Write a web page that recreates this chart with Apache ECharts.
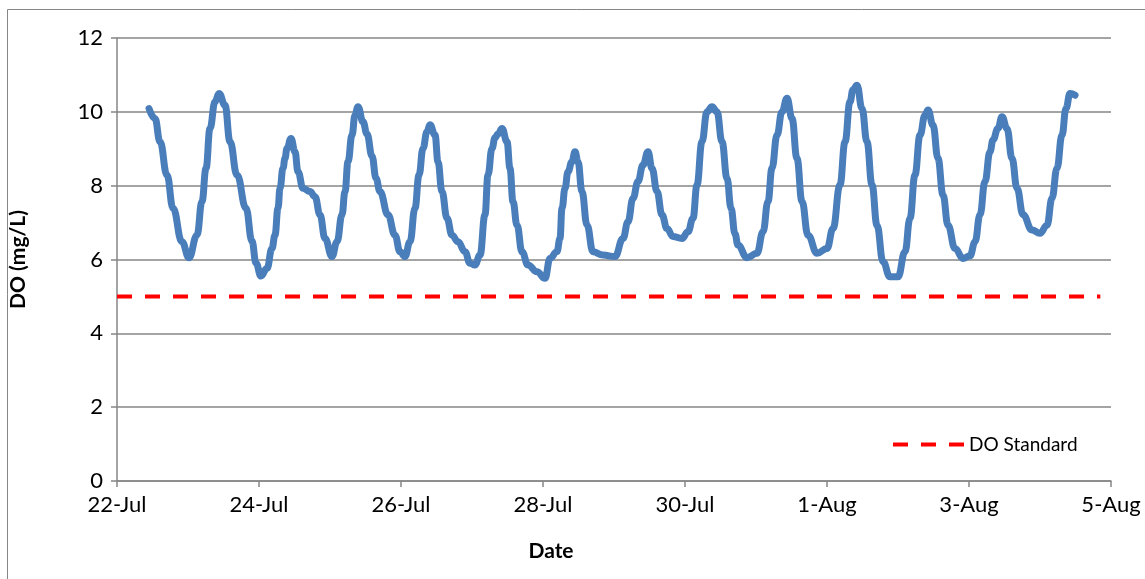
<!DOCTYPE html>
<html>
<head>
<meta charset="utf-8">
<script src="https://cdn.jsdelivr.net/npm/echarts@6/dist/echarts.min.js"></script>
<style>
  html, body { margin: 0; padding: 0; background: #ffffff; }
  #chart { width: 1145px; height: 579px; }
</style>
</head>
<body>
<div id="chart"></div>
<script>
// Time of each reading, in days elapsed since 22-Jul 00:00
const sampleDays = [
  0.451, 0.535, 0.606, 0.704, 0.789, 0.915, 1.014, 1.127, 1.197, 1.254, 1.310, 1.380, 1.437, 1.521, 1.592, 1.690,
  1.817, 1.901, 1.958, 2.028, 2.113, 2.183, 2.225, 2.268, 2.296, 2.338, 2.366, 2.394, 2.451, 2.507, 2.549, 2.620,
  2.718, 2.789, 2.859, 2.930, 3.028, 3.099, 3.169, 3.211, 3.254, 3.310, 3.352, 3.394, 3.465, 3.521, 3.592, 3.648,
  3.704, 3.817, 3.915, 3.986, 4.056, 4.127, 4.197, 4.254, 4.310, 4.366, 4.408, 4.479, 4.521, 4.577, 4.648, 4.718,
  4.803, 4.901, 4.972, 5.042, 5.113, 5.183, 5.225, 5.282, 5.324, 5.366, 5.423, 5.493, 5.535, 5.577, 5.634, 5.704,
  5.789, 5.915, 6.028, 6.099, 6.197, 6.239, 6.268, 6.310, 6.352, 6.408, 6.451, 6.493, 6.549, 6.620, 6.704, 6.845,
  7.014, 7.127, 7.197, 7.268, 7.338, 7.408, 7.479, 7.535, 7.606, 7.676, 7.746, 7.831, 7.958, 8.042, 8.113, 8.169,
  8.239, 8.310, 8.380, 8.451, 8.521, 8.592, 8.648, 8.704, 8.746, 8.873, 9.014, 9.099, 9.169, 9.225, 9.296, 9.366,
  9.437, 9.507, 9.577, 9.648, 9.732, 9.859, 10.000, 10.085, 10.183, 10.254, 10.324, 10.366, 10.423, 10.493, 10.563, 10.634,
  10.704, 10.789, 10.887, 11.000, 11.099, 11.169, 11.239, 11.310, 11.380, 11.423, 11.493, 11.563, 11.634, 11.704, 11.803, 11.915,
  12.014, 12.085, 12.155, 12.225, 12.296, 12.338, 12.408, 12.465, 12.535, 12.606, 12.676, 12.761, 12.887, 13.000, 13.099, 13.169,
  13.239, 13.310, 13.366, 13.423, 13.493
];

// Dissolved oxygen, mg/L
const doMgL = [
  10.09, 9.82, 9.19, 8.29, 7.39, 6.48, 6.05, 6.66, 7.57, 8.47, 9.55, 10.27, 10.50, 10.18, 9.19, 8.29,
  7.39, 6.50, 5.90, 5.55, 5.76, 6.30, 6.66, 7.39, 7.93, 8.47, 8.74, 9.01, 9.28, 8.92, 8.38, 7.93,
  7.84, 7.70, 7.21, 6.57, 6.08, 6.48, 7.21, 7.84, 8.65, 9.37, 9.91, 10.14, 9.73, 9.40, 8.80, 8.20,
  7.84, 7.21, 6.66, 6.21, 6.08, 6.48, 7.39, 8.29, 9.01, 9.46, 9.65, 9.37, 8.65, 7.84, 7.12, 6.66,
  6.48, 6.21, 5.90, 5.85, 6.12, 7.21, 8.29, 9.01, 9.30, 9.40, 9.55, 9.19, 8.47, 7.57, 6.93, 6.21,
  5.85, 5.67, 5.49, 6.03, 6.21, 6.57, 7.39, 7.93, 8.38, 8.65, 8.92, 8.65, 7.84, 6.93, 6.21, 6.12,
  6.08, 6.57, 7.02, 7.66, 8.11, 8.56, 8.92, 8.47, 7.84, 7.21, 6.84, 6.62, 6.57, 6.75, 7.12, 8.02,
  9.19, 10.00, 10.14, 10.00, 9.19, 8.20, 7.39, 6.70, 6.39, 6.05, 6.17, 6.75, 7.57, 8.47, 9.37, 10.00,
  10.37, 9.82, 8.74, 7.57, 6.66, 6.17, 6.30, 6.84, 8.02, 9.19, 10.27, 10.60, 10.72, 10.09, 9.19, 8.02,
  6.93, 5.94, 5.53, 5.53, 6.21, 7.12, 8.29, 9.37, 9.91, 10.05, 9.64, 8.74, 7.75, 6.93, 6.30, 6.03,
  6.10, 6.48, 7.21, 8.11, 8.92, 9.24, 9.55, 9.87, 9.55, 8.74, 7.93, 7.21, 6.80, 6.71, 6.93, 7.66,
  8.47, 9.37, 10.09, 10.50, 10.45
];

// DO standard and the span of days it is drawn across
const doStandardValue = 5;
const standardDays = [0, 13.85];

// Axis ranges (days since 22-Jul; mg/L)
const xRange = [0, 14, 2];
const yRange = [0, 12, 2];
const monthNames = ['Jan', 'Feb', 'Mar', 'Apr', 'May', 'Jun', 'Jul', 'Aug', 'Sep', 'Oct', 'Nov', 'Dec'];

const FONT = 'Lato, "Open Sans", sans-serif';
const GREY = '#868686';

function dayLabel(v) {
  const d = new Date(2011, 6, 22 + Math.round(v));
  return d.getDate() + '-' + monthNames[d.getMonth()];
}

const doSeriesData = sampleDays.map((t, i) => [t, doMgL[i]]);
const standardData = standardDays.map(t => [t, doStandardValue]);

// Legend key: three short dashes, like the standard line itself
const dashedKey = 'path://M0,0H15V4H0Z M28,0H43V4H28Z M56,0H71V4H56Z';

const chart = echarts.init(document.getElementById('chart'), null, { renderer: 'canvas' });

chart.setOption({
  animation: false,
  backgroundColor: '#ffffff',
  textStyle: { fontFamily: FONT },
  grid: { left: 117, top: 38, right: 34, bottom: 98, containLabel: false },
  graphic: [{
    type: 'rect',
    silent: true,
    shape: { x: 7.5, y: 9.5, width: 1150, height: 590 },
    style: { fill: 'none', stroke: GREY, lineWidth: 1 }
  }],
  legend: {
    data: [{ name: 'DO Standard', icon: dashedKey }],
    left: 888,
    top: 430,
    itemWidth: 71,
    itemHeight: 4,
    itemGap: 10,
    textStyle: { fontFamily: FONT, fontSize: 19, color: '#000000' }
  },
  xAxis: {
    type: 'value',
    min: xRange[0],
    max: xRange[1],
    interval: xRange[2],
    name: 'Date',
    nameLocation: 'middle',
    nameGap: 60,
    nameTextStyle: { fontFamily: FONT, fontSize: 21, fontWeight: 'bold', color: '#000000', padding: [0, 126, 0, 0] },
    axisLine: { show: true, lineStyle: { color: GREY, width: 1.5 } },
    axisTick: { show: true, inside: false, length: 6, lineStyle: { color: GREY, width: 1.5 } },
    axisLabel: { margin: 13, fontFamily: FONT, fontSize: 22, color: '#000000', formatter: dayLabel },
    splitLine: { show: false }
  },
  yAxis: {
    type: 'value',
    min: yRange[0],
    max: yRange[1],
    interval: yRange[2],
    name: 'DO (mg/L)',
    nameLocation: 'middle',
    nameGap: 88,
    nameRotate: 90,
    nameTextStyle: { fontFamily: FONT, fontSize: 21, fontWeight: 'bold', color: '#000000' },
    axisLine: { show: true, lineStyle: { color: GREY, width: 1.5 } },
    axisTick: { show: true, inside: false, length: 6, lineStyle: { color: GREY, width: 1.5 } },
    axisLabel: { margin: 14, fontFamily: FONT, fontSize: 22, color: '#000000' },
    splitLine: { show: true, lineStyle: { color: GREY, width: 1.5 } }
  },
  series: [
    {
      name: 'DO',
      type: 'line',
      data: doSeriesData,
      symbol: 'none',
      smooth: 0.45,
      smoothMonotone: 'x',
      lineStyle: { color: '#4a7ebb', width: 7, cap: 'round', join: 'round' },
      itemStyle: { color: '#4a7ebb' },
      z: 3
    },
    {
      name: 'DO Standard',
      type: 'line',
      data: standardData,
      symbol: 'none',
      lineStyle: { color: '#ff0000', width: 4, type: [15, 13] },
      itemStyle: { color: '#ff0000' },
      z: 2
    }
  ]
});
</script>
</body>
</html>
